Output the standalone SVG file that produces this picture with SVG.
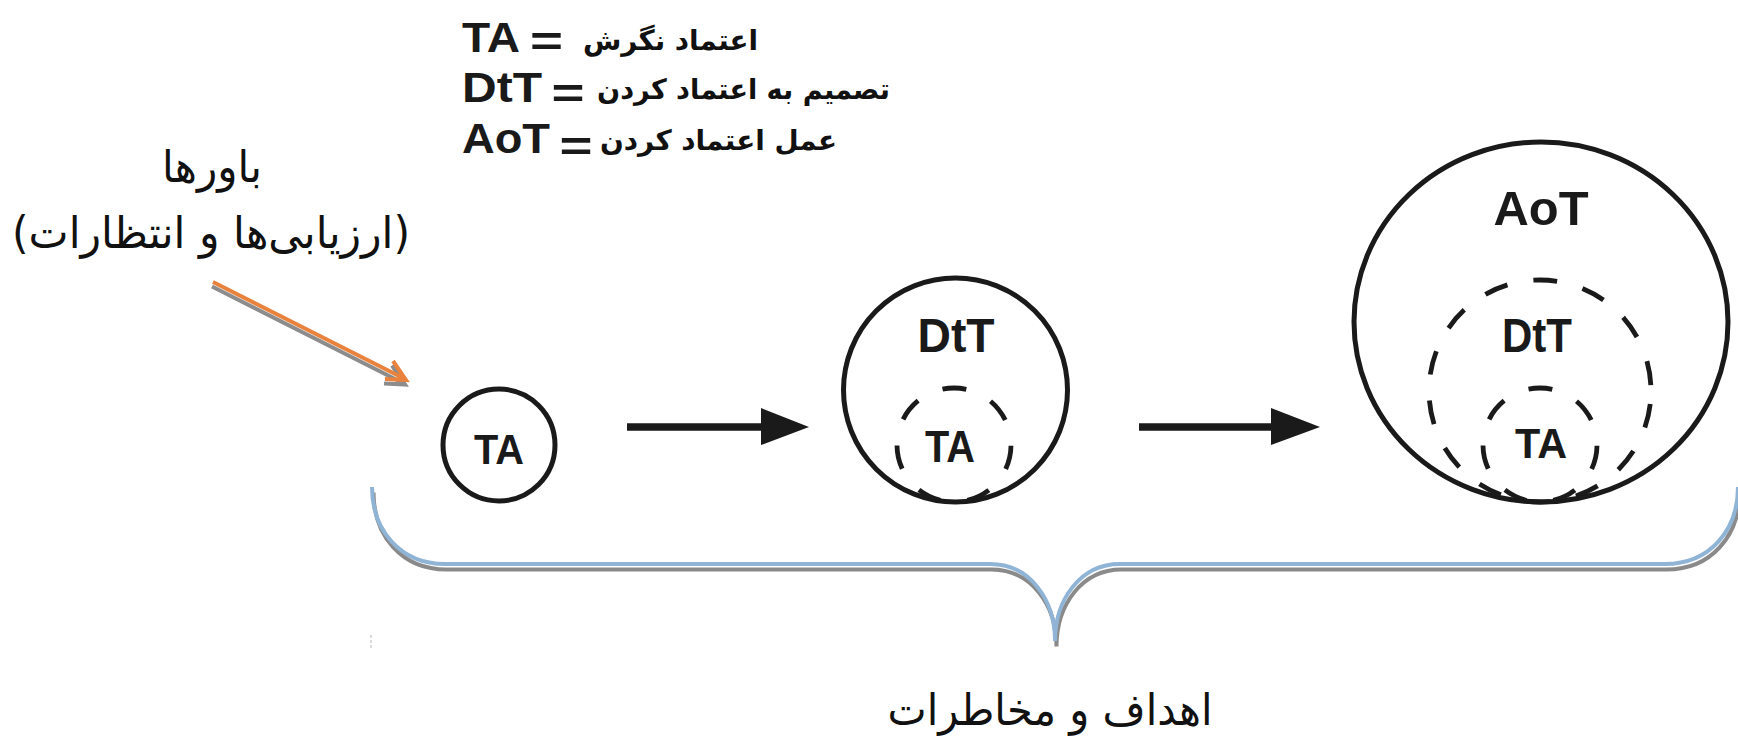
<svg xmlns="http://www.w3.org/2000/svg" width="1738" height="739" viewBox="0 0 1738 739">
<style>
.en{font-family:"Liberation Sans",Arial,sans-serif;font-weight:bold;fill:#1a1a1a;text-anchor:middle}
.fa{font-family:"DejaVu Sans",sans-serif;fill:#111;text-anchor:middle}
.solid{fill:none;stroke:#1a1a1a;stroke-width:5}
.dash57{fill:none;stroke:#1a1a1a;stroke-width:4.8;stroke-dasharray:24 27.16;stroke-dashoffset:50.36}
.dash112{fill:none;stroke:#1a1a1a;stroke-width:4.8;stroke-dasharray:24 26.27;stroke-dashoffset:37.17}
.arrow{stroke:#1a1a1a;stroke-width:7.5;fill:none}
.head{fill:#1a1a1a}
.braceShadow{fill:none;stroke:#8a8a8a;stroke-width:4}
.braceLine{fill:none;stroke:#8fb4d6;stroke-width:4}
.orShadow{fill:none;stroke:#8c8c8c;stroke-width:4}
.orLine{fill:none;stroke:#e8823d;stroke-width:4}
</style>
<defs>
<path id="bracePath" d="M372,487 C372,530 400,564 445,564 L990,564 C1030,564 1055,600 1055,641 C1055,600 1080,564 1120,564 L1665,564 C1710,564 1738,530 1738,487"/>
<path id="orangePath" d="M213,282 L403,378 M393,361 L406,380 L385,379"/>
</defs>
<rect width="1738" height="739" fill="#ffffff"/>

<g id="legend">
<text class="en" x="491" y="52" font-size="42" textLength="58" lengthAdjust="spacingAndGlyphs">TA</text>
<text class="en" x="546.5" y="56" font-size="42" textLength="33" lengthAdjust="spacingAndGlyphs">=</text>
<text class="fa" x="670.5" y="50" font-size="28" font-weight="bold" direction="rtl" textLength="175" lengthAdjust="spacingAndGlyphs">اعتماد نگرش</text>
<text class="en" x="502" y="102" font-size="42" textLength="80" lengthAdjust="spacingAndGlyphs">DtT</text>
<text class="en" x="568" y="108" font-size="42" textLength="33" lengthAdjust="spacingAndGlyphs">=</text>
<text class="fa" x="743.5" y="99" font-size="28" font-weight="bold" direction="rtl" textLength="293" lengthAdjust="spacingAndGlyphs">تصمیم به اعتماد کردن</text>
<text class="en" x="506" y="153" font-size="42" textLength="88" lengthAdjust="spacingAndGlyphs">AoT</text>
<text class="en" x="576" y="161" font-size="42" textLength="33" lengthAdjust="spacingAndGlyphs">=</text>
<text class="fa" x="718.5" y="150" font-size="28" font-weight="bold" direction="rtl" textLength="237" lengthAdjust="spacingAndGlyphs">عمل اعتماد کردن</text>
</g>

<g id="label-beliefs">
<text class="fa" x="212" y="182" font-size="44" direction="rtl" textLength="100" lengthAdjust="spacingAndGlyphs">باورها</text>
<text class="fa" x="211" y="248" font-size="44" direction="rtl" textLength="398" lengthAdjust="spacingAndGlyphs">(ارزیابی‌ها و انتظارات)</text>
</g>

<g id="node-ta">
<circle class="solid" cx="499" cy="445" r="56"/>
<text class="en" x="499" y="464" font-size="43" textLength="50" lengthAdjust="spacingAndGlyphs">TA</text>
</g>

<g id="node-dtt">
<circle class="solid" cx="955.5" cy="390" r="112"/>
<circle class="dash57" cx="954" cy="445" r="57"/>
<text class="en" x="956" y="352" font-size="48" textLength="77" lengthAdjust="spacingAndGlyphs">DtT</text>
<text class="en" x="950" y="462" font-size="44" textLength="50" lengthAdjust="spacingAndGlyphs">TA</text>
</g>

<g id="node-aot">
<ellipse class="solid" cx="1541" cy="322" rx="187" ry="180"/>
<circle class="dash112" cx="1540" cy="391" r="111"/>
<circle class="dash57" cx="1540" cy="445" r="57"/>
<text class="en" x="1541" y="225" font-size="48" textLength="95" lengthAdjust="spacingAndGlyphs">AoT</text>
<text class="en" x="1537" y="352" font-size="48" textLength="70" lengthAdjust="spacingAndGlyphs">DtT</text>
<text class="en" x="1541" y="458" font-size="43" textLength="52" lengthAdjust="spacingAndGlyphs">TA</text>
</g>

<g id="connectors">
<line class="arrow" x1="627" y1="427" x2="765" y2="427"/>
<polygon class="head" points="761,408 809,427 761,445"/>
<line class="arrow" x1="1139" y1="427" x2="1275" y2="427"/>
<polygon class="head" points="1271,408 1320,427 1271,445"/>
<use href="#orangePath" class="orShadow" transform="translate(-1,4.5)"/>
<use href="#orangePath" class="orLine"/>
</g>

<g id="brace">
<use href="#bracePath" class="braceShadow" transform="translate(1.5,5.5)"/>
<use href="#bracePath" class="braceLine"/>
<line x1="371" y1="635" x2="371" y2="648" stroke="#c4c4c4" stroke-width="1.2" stroke-dasharray="3 2"/>
</g>

<g id="label-goals">
<text class="fa" x="1050" y="725" font-size="44" direction="rtl" textLength="325" lengthAdjust="spacingAndGlyphs">اهداف و مخاطرات</text>
</g>
</svg>
